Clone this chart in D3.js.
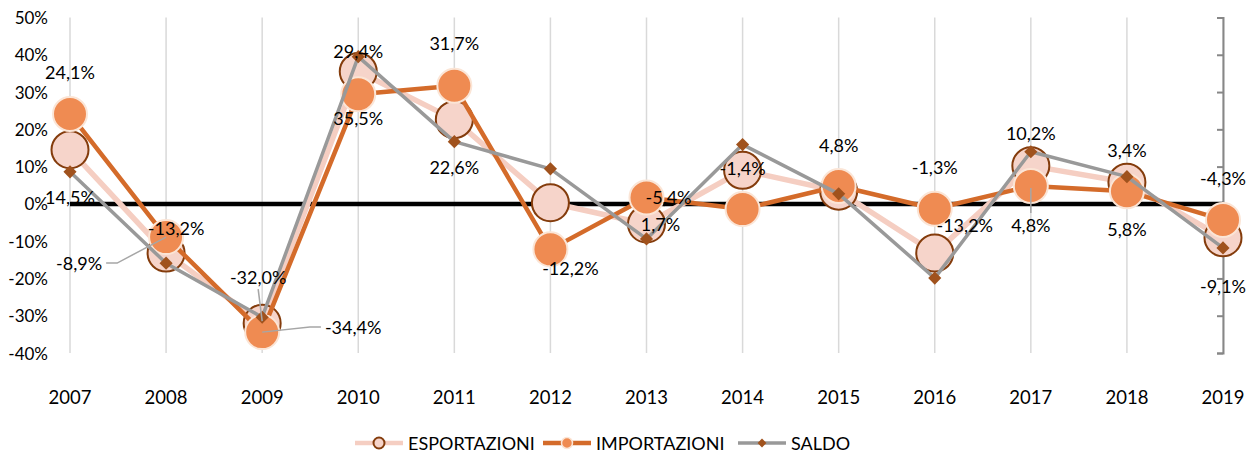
<!DOCTYPE html>
<html lang="it">
<head>
<meta charset="utf-8">
<title>Esportazioni, importazioni, saldo</title>
<script src="https://d3js.org/d3.v7.min.js"></script>
<style>
  body { margin: 0; background: #fff; }
  text { font-family: Lato, "Open Sans", sans-serif; fill: #000; }
</style>
</head>
<body>
<div id="chart"></div>
<script>
// ---- data (variazioni % annue) ----
var years = ["2007","2008","2009","2010","2011","2012","2013","2014","2015","2016","2017","2018","2019"];
var esportazioni = [14.5, -13.2, -32.0, 35.5, 22.6, 0.3, -5.4, 9.0, 3.4, -13.2, 10.2, 5.8, -9.1];
var importazioni = [24.1, -8.9, -34.4, 29.4, 31.7, -12.2, 1.7, -1.4, 4.8, -1.3, 4.8, 3.4, -4.3];
var saldo = [8.6, -15.9, -30.4, 39.5, 16.7, 9.4, -9.4, 15.9, 2.7, -19.9, 14.0, 7.3, -11.8];
var yTicks = [-40, -30, -20, -10, 0, 10, 20, 30, 40, 50];

// label placement: [series, year index, dx, dy, leader]
var labelPlace = [
  ["imp", 0, 0, -42], ["esp", 0, 0, 47],
  ["imp", 1, -87, 26, true], ["esp", 1, 10, -25],
  ["imp", 2, 91, -5, true], ["esp", 2, -4, -46, true],
  ["imp", 3, 0, -43], ["esp", 3, 0, 46],
  ["imp", 4, 0, -43], ["esp", 4, 0, 47],
  ["imp", 5, 20, 19],
  ["imp", 6, 14, 26], ["esp", 6, 22, -27],
  ["imp", 7, 0, -41],
  ["imp", 8, 0, -41],
  ["imp", 9, 0, -42], ["esp", 9, 30, -28],
  ["imp", 10, 0, 39, true], ["esp", 10, 0, -33],
  ["imp", 11, 0, -41], ["esp", 11, 0, 47],
  ["imp", 12, 0, -42], ["esp", 12, 0, 48]
];

var W = 1248, H = 454;
var svg = d3.select("#chart").append("svg")
  .attr("width", W).attr("height", H);

var x = d3.scalePoint().domain(years).range([70, 1223]);
var y = d3.scaleLinear().domain([-40, 50]).range([353, 17.5]);

var fmt = function(v) { return v.toFixed(1).replace(".", ",") + "%"; };

// vertical gridlines
svg.append("g").selectAll("line")
  .data(years).enter().append("line")
    .attr("x1", function(d) { return x(d); })
    .attr("x2", function(d) { return x(d); })
    .attr("y1", y(50)).attr("y2", y(-40))
    .attr("stroke", "#d9d9d9").attr("stroke-width", 1.5);

// left tick labels
svg.append("g").selectAll("text")
  .data(yTicks).enter().append("text")
    .attr("x", 48)
    .attr("y", function(d) { return y(d); })
    .attr("text-anchor", "end")
    .attr("dominant-baseline", "central")
    .style("font-size", "17px")
    .text(function(d) { return d + "%"; });

// right (secondary) axis, no labels
var rAxis = svg.append("g")
  .attr("transform", "translate(" + x("2019") + ",0)")
  .call(d3.axisRight(y).tickValues(yTicks).tickSize(-6).tickSizeOuter(-6).tickFormat(""));
rAxis.selectAll("path, line").attr("stroke", "#878787").attr("stroke-width", 2);

// zero line
svg.append("line")
  .attr("x1", x("2007")).attr("x2", x("2019"))
  .attr("y1", y(0)).attr("y2", y(0))
  .attr("stroke", "#000").attr("stroke-width", 4.5);

// x labels
svg.append("g").selectAll("text")
  .data(years).enter().append("text")
    .attr("x", function(d) { return x(d); })
    .attr("y", 397)
    .attr("text-anchor", "middle")
    .attr("dominant-baseline", "central")
    .style("font-size", "18.5px")
    .text(function(d) { return d; });

var line = function(vals) {
  return d3.line()
    .x(function(d, i) { return x(years[i]); })
    .y(function(d) { return y(d); })(vals);
};

// ESPORTAZIONI
svg.append("path").attr("d", line(esportazioni))
  .attr("fill", "none").attr("stroke", "#F5CEC2").attr("stroke-width", 5.5)
  .attr("stroke-linejoin", "round");
svg.append("g").selectAll("circle")
  .data(esportazioni).enter().append("circle")
    .attr("cx", function(d, i) { return x(years[i]); })
    .attr("cy", function(d) { return y(d); })
    .attr("r", 18.5)
    .attr("fill", "#F6D4CA").attr("stroke", "#843C0C").attr("stroke-width", 2);

// IMPORTAZIONI
svg.append("path").attr("d", line(importazioni))
  .attr("fill", "none").attr("stroke", "#D46B2A").attr("stroke-width", 4.5)
  .attr("stroke-linejoin", "round");
svg.append("g").selectAll("circle")
  .data(importazioni).enter().append("circle")
    .attr("cx", function(d, i) { return x(years[i]); })
    .attr("cy", function(d) { return y(d); })
    .attr("r", 17)
    .attr("fill", "#EF8B52").attr("stroke", "#FBE5D6").attr("stroke-width", 2);

// SALDO
var diamond = d3.symbol().type(d3.symbolDiamond2).size(110);
svg.append("path").attr("d", line(saldo))
  .attr("fill", "none").attr("stroke", "#999999").attr("stroke-width", 3.5)
  .attr("stroke-linejoin", "round");
svg.append("g").selectAll("path")
  .data(saldo).enter().append("path")
    .attr("d", diamond)
    .attr("transform", function(d, i) { return "translate(" + x(years[i]) + "," + y(d) + ")"; })
    .attr("fill", "#A0521D");

// data labels
var series = { esp: esportazioni, imp: importazioni };
var lblG = svg.append("g");
labelPlace.forEach(function(p) {
  var v = series[p[0]][p[1]];
  var px = x(years[p[1]]), py = y(v);
  var lx = px + p[2], ly = py + p[3];
  var t = lblG.append("text")
    .attr("x", lx).attr("y", ly)
    .attr("text-anchor", "middle")
    .attr("dominant-baseline", "central")
    .style("font-size", "18px")
    .text(fmt(v));
  if (p[4]) {
    var hw = t.node().getComputedTextLength() / 2;
    var pts;
    if (Math.abs(p[2]) > 40) {
      var s = p[2] < 0 ? 1 : -1;
      var sx = lx + s * (hw + 4);
      pts = [[sx, ly], [sx + s * 11, ly], [px, py]];
    } else {
      var sy = p[3] < 0 ? ly + 12 : ly - 12;
      pts = [[lx, sy], [px, py + (p[3] < 0 ? -2 : 2)]];
    }
    lblG.insert("path", "text")
      .attr("d", d3.line()(pts))
      .attr("fill", "none").attr("stroke", "#A6A6A6").attr("stroke-width", 1.5);
  }
});

// legend
var legend = [
  { name: "ESPORTAZIONI", x: 355, kind: "esp" },
  { name: "IMPORTAZIONI", x: 543, kind: "imp" },
  { name: "SALDO", x: 738, kind: "sal" }
];
var ly0 = 443;
legend.forEach(function(l) {
  var g = svg.append("g");
  var lc = { esp: "#F5CEC2", imp: "#D46B2A", sal: "#999999" }[l.kind];
  g.append("line").attr("x1", l.x).attr("x2", l.x + 48)
    .attr("y1", ly0).attr("y2", ly0)
    .attr("stroke", lc).attr("stroke-width", l.kind === "sal" ? 3.5 : 4.5);
  if (l.kind === "esp") {
    g.append("circle").attr("cx", l.x + 24).attr("cy", ly0).attr("r", 5.5)
      .attr("fill", "#F6D4CA").attr("stroke", "#843C0C").attr("stroke-width", 2);
  } else if (l.kind === "imp") {
    g.append("circle").attr("cx", l.x + 24).attr("cy", ly0).attr("r", 5.5)
      .attr("fill", "#EF8B52").attr("stroke", "#FBE5D6").attr("stroke-width", 1.5);
  } else {
    g.append("path").attr("d", d3.symbol().type(d3.symbolDiamond2).size(50))
      .attr("transform", "translate(" + (l.x + 24) + "," + ly0 + ")")
      .attr("fill", "#A0521D");
  }
  g.append("text").attr("x", l.x + 53).attr("y", ly0)
    .attr("dominant-baseline", "central")
    .style("font-size", "18px")
    .text(l.name);
});
</script>
</body>
</html>
